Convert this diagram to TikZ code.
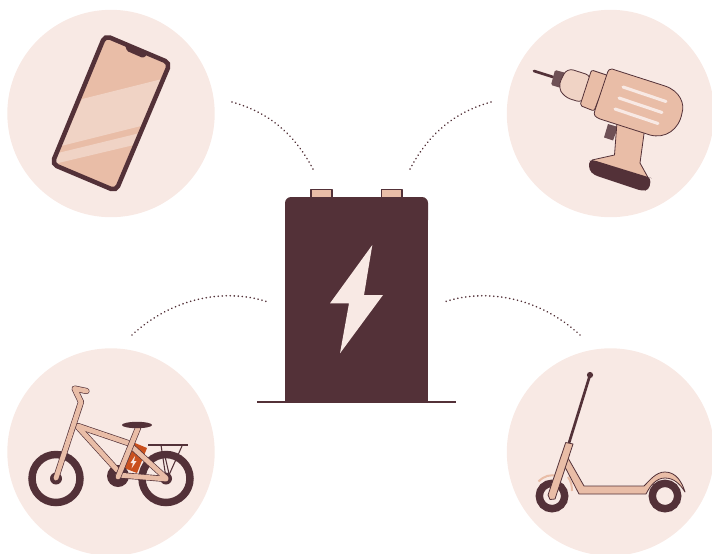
\documentclass[tikz,border=0pt]{standalone}
\definecolor{batteryDark}{RGB}{83,49,56}
\definecolor{deviceTan}{RGB}{233,189,167}
\definecolor{deviceLight}{RGB}{240,211,197}
\definecolor{circleBack}{RGB}{248,233,228}
\definecolor{gripMid}{RGB}{110,80,85}
\definecolor{cellOrange}{RGB}{201,80,30}
\usetikzlibrary{calc}
\tikzset{
  backdisc/.style={fill=circleBack},
  tube/.style={draw=batteryDark,line width=4.6pt,line cap=round,line join=round},
  tubefill/.style={draw=deviceTan,line width=3.6pt,line cap=round,line join=round},
  part/.style={draw=batteryDark,line width=0.6pt,fill=deviceTan,line join=round},
  wheel/.style={draw=batteryDark,fill=none},
  link/.style={draw=batteryDark,line width=1.35pt,dash pattern=on 0.01pt off 3pt,line cap=round}
}
\begin{document}
\begin{tikzpicture}[x=0.75pt,y=-0.75pt]
  \useasboundingbox (0,0) rectangle (712,553);
  % Four backdrops
  \fill[backdisc] (111,113.5) circle (103.7);
  \fill[backdisc] (610.5,113.5) circle (103.7);
  \fill[backdisc] (111,452) circle (103.7);
  \fill[backdisc] (610.5,452) circle (103.7);
  % Dotted links
  \coordinate (phoneEnd) at (232,102);
  \coordinate (phoneStart) at (314,171);
  \coordinate (drillEnd) at (491,102);
  \coordinate (drillStart) at (409,171);
  \coordinate (bikeEnd) at (132,335);
  \coordinate (bikeStart) at (268,302);
  \coordinate (scooterEnd) at (580,335);
  \coordinate (scooterStart) at (444,302);
  \draw[link] (phoneEnd) .. controls (271,113) and (296,136) .. (phoneStart);
  \draw[link] (drillEnd) .. controls (452,113) and (427,136) .. (drillStart);
  \draw[link] (bikeEnd) .. controls (173,297) and (226,288) .. (bikeStart);
  \draw[link] (scooterEnd) .. controls (539,297) and (486,288) .. (scooterStart);
  % Battery
  \draw[part,line width=0.9pt] (311,197) -- (311,189.5) -- (332,189.5) -- (332,197);
  \draw[part,line width=0.9pt] (381.5,197) -- (381.5,189.5) -- (402,189.5) -- (402,197);
  \fill[batteryDark,rounded corners=4.5pt] (285,220) -- (285,197) -- (428,197) -- (428,220);
  \fill[batteryDark] (285,215) rectangle (428,402);
  \draw[batteryDark,line width=0.9pt] (257,402) -- (456,402);
  \fill[circleBack] (372.3,245) -- (330,303.3) -- (349,303.3) -- (340,353.3)
    -- (383,295) -- (364,295) -- cycle;
  % Phone
  \begin{scope}
    \fill[deviceTan,rounded corners=4pt] (105,35.5) -- (170,63) -- (116,191) -- (52,164) -- cycle;
    \clip[rounded corners=4pt] (105,35.5) -- (170,63) -- (116,191) -- (52,164) -- cycle;
    \fill[deviceLight] (82,99) -- (162,79) -- (141,126) -- (61,146) -- cycle;
    \fill[deviceLight] (58,153) -- (140,133) -- (134,145) -- (54,164) -- cycle;
  \end{scope}
  \fill[batteryDark,rounded corners=1pt] (125,45) -- (127,51) -- (143,58) -- (147,55) -- cycle;
  \draw[batteryDark,line width=3.4pt,rounded corners=4pt]
    (105,35.5) -- (170,63) -- (116,191) -- (52,164) -- cycle;
  % Drill
  \draw[batteryDark,line width=2pt,line cap=round] (534,71) -- (553,77);
  \fill[gripMid,rounded corners=1pt] (555,70) -- (566,73) -- (561,88) -- (551,85) -- cycle;
  \draw[part,fill=deviceLight,rounded corners=5pt] (567,68) -- (592,76) -- (583,103) -- (564,97) -- (558,86) -- cycle;
  \draw[part,rounded corners=1.5pt] (591.5,70) -- (608,75.5) -- (594,111) -- (580,105.5) -- cycle;
  \fill[gripMid] (608,124) -- (618,127) -- (613,140.5) -- (604,137.5) -- cycle;
  \fill[deviceTan] (617,122) -- (614.5,155) -- (592,160) -- (648,177.5) -- (640,163) -- (644.5,130) -- cycle;
  \draw[part,fill=none] (617,122) -- (614.5,155) -- (592,160);
  \draw[part,fill=none] (648,177.5) -- (640,163) -- (644.5,130);
  \draw[part] (612,69) -- (665,86) .. controls (680,91) and (685,104) .. (682,113)
    .. controls (679,130) and (665,139) .. (650,135) -- (600,119)
    .. controls (595,117) and (593,115) .. (595,110) -- (607,74)
    .. controls (608,70) and (610,68.5) .. (612,69) -- cycle;
  \foreach \ya/\yb in {623/87,619/98,615/109}{
    \draw[circleBack,line width=2.3pt,line cap=round] (\ya,\yb) -- ($(\ya,\yb)+(43,14.5)$);
  }
  \fill[batteryDark,rounded corners=3pt] (593,160) -- (589,160) -- (589,170) -- (594,175)
    -- (642,191) -- (649,190) -- (651,178) -- (648,177) -- cycle;
  % Bike
  \draw[wheel,line width=5.6pt] (56,478.5) circle (24);
  \draw[wheel,line width=5.6pt] (166,478.5) circle (24);
  \fill[batteryDark] (56,478.5) circle (6);
  \fill[batteryDark] (166,478.5) circle (6);
  \draw[batteryDark,line width=0.8pt] (161,445) -- (166,478);
  \draw[batteryDark,line width=0.8pt] (182,446) -- (169,475);
  \draw[batteryDark,line width=0.8pt] (164,452) -- (170,478);
  \draw[batteryDark,line width=2.2pt] (148,445) -- (188,445);
  \fill[cellOrange] (135,443) -- (147,448) -- (137,473) -- (124,468) -- cycle;
  \fill[batteryDark] (118,476) circle (11);
  \fill[circleBack] (135,456) -- (130.5,463) -- (133,463) -- (131.5,468.5) -- (136.5,461) -- (134,461) -- cycle;
  \foreach \pathstyle in {tube,tubefill}{
    \draw[\pathstyle] (118,475) -- (166,479);
    \draw[\pathstyle] (130,445) -- (166,478);
    \draw[\pathstyle] (78,427) -- (117,470);
    \draw[\pathstyle] (78,426) -- (128,443);
  }
  \foreach \pathstyle in {tube,tubefill}{
    \draw[\pathstyle] (56,478) -- (81,402) -- (74.5,388.5) -- (86.5,391);
    \draw[\pathstyle] (138,428) -- (118,477);
  }
  \fill[batteryDark] (137,425) ellipse (15 and 3.2);
  % Scooter
  \draw[wheel,line width=5.6pt] (552,496) circle (12.7);
  \draw[wheel,line width=5.6pt] (665,496) circle (12.7);
  \draw[deviceTan,line width=1.5pt] (538.5,481.5) .. controls (544,476) and (550,474) .. (558,476);
  \draw[deviceTan,line width=1.5pt] (568,477) .. controls (571,481) and (572,486) .. (572,491);
  \draw[batteryDark,line width=2pt] (590,375) -- (569,443);
  \fill[batteryDark] (590,375) circle (3.1);
  \draw[part] (568,458) -- (584,486) -- (644,486) .. controls (650,480) and (656,472) .. (665,472)
    .. controls (676,472) and (682,482) .. (685,492) .. controls (680,484) and (674,478) .. (665,478)
    .. controls (656,478) and (650,486) .. (646,494) -- (579,494) -- (565,467) -- cycle;
  \draw[part] (565.7,442.5) -- (573,444) -- (555,499) -- (550,499.5) -- (548,495) -- cycle;
\end{tikzpicture}
\end{document}
